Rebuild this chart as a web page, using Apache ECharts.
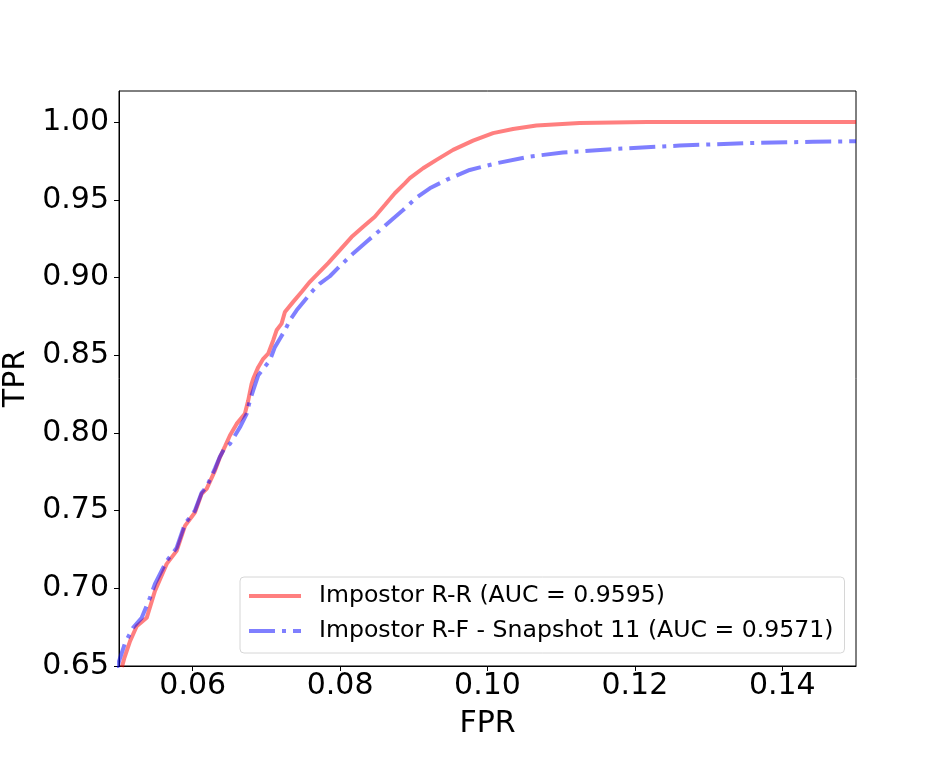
<!DOCTYPE html>
<html>
<head>
<meta charset="utf-8">
<script src="https://cdn.jsdelivr.net/npm/echarts@6/dist/echarts.min.js"></script>
<style>
    html, body { margin: 0; padding: 0; background: #fff; }
    #myChart { width: 952px; height: 761px; }
</style>
</head>
<body>
<div id="myChart"></div>
<script>
// ROC curves
var seriesNames = ['Impostor R-R (AUC = 0.9595)', 'Impostor R-F - Snapshot 11 (AUC = 0.9571)'];
var xTicks = [0.06, 0.08, 0.10, 0.12, 0.14];
var yTicks = [0.65, 0.70, 0.75, 0.80, 0.85, 0.90, 0.95, 1.00];

var fprRR = [0.0504, 0.0507, 0.0515, 0.0524, 0.05376, 0.05488, 0.05647, 0.05782, 0.05895, 0.0603,
    0.06121, 0.06189, 0.06302, 0.06369, 0.06437, 0.06505, 0.06596, 0.06708, 0.06753, 0.06799,
    0.06821, 0.06889, 0.06957, 0.07024, 0.07092, 0.07138, 0.07206, 0.07251, 0.07363, 0.07477,
    0.0759, 0.07702, 0.07838, 0.07997, 0.08155, 0.08313, 0.08471, 0.08607, 0.08742, 0.08878,
    0.08946, 0.09126, 0.09308, 0.09533, 0.09804, 0.10075, 0.10346, 0.10664, 0.1125, 0.1216, 0.15];
var tprRR = [0.6494, 0.6547, 0.666, 0.6756, 0.681, 0.6983, 0.7157, 0.7241, 0.7402, 0.7488,
    0.7608, 0.764, 0.7757, 0.7843, 0.7912, 0.7983, 0.8058, 0.8123, 0.8208, 0.8316,
    0.8348, 0.8423, 0.8477, 0.851, 0.8595, 0.866, 0.8703, 0.8778, 0.8843, 0.8907,
    0.8972, 0.9026, 0.9092, 0.9176, 0.926, 0.9326, 0.9391, 0.9466, 0.9542, 0.9606,
    0.9639, 0.9703, 0.9757, 0.9821, 0.9881, 0.9929, 0.9955, 0.9978, 0.9994, 1.0, 1.0];

var fprRF = [0.0497, 0.05, 0.05081, 0.0519, 0.05308, 0.0542, 0.05488, 0.05647, 0.05782, 0.05895,
    0.0603, 0.06121, 0.06189, 0.06302, 0.06369, 0.06437, 0.06505, 0.06641, 0.06732, 0.06776,
    0.06821, 0.06889, 0.06957, 0.07047, 0.07115, 0.07183, 0.07251, 0.07319, 0.0741, 0.07522,
    0.07635, 0.07725, 0.07861, 0.07997, 0.08177, 0.08359, 0.08516, 0.08698, 0.08855, 0.09036,
    0.09217, 0.09443, 0.09759, 0.10121, 0.10573, 0.11024, 0.11702, 0.12607, 0.13511, 0.14414, 0.15];
var tprRF = [0.648, 0.653, 0.6647, 0.6746, 0.681, 0.6939, 0.7028, 0.7176, 0.726, 0.7415,
    0.7499, 0.7615, 0.7653, 0.777, 0.7847, 0.7905, 0.7929, 0.8036, 0.8123, 0.8208,
    0.8273, 0.837, 0.8413, 0.8466, 0.8552, 0.8606, 0.866, 0.8725, 0.8789, 0.8854,
    0.8918, 0.8961, 0.9008, 0.9073, 0.9155, 0.923, 0.9294, 0.937, 0.9434, 0.9514,
    0.9574, 0.9628, 0.9692, 0.9735, 0.9778, 0.9804, 0.9826, 0.9849, 0.9865, 0.9873, 0.9877];

function zip(xs, ys) {
    var out = [];
    for (var i = 0; i < xs.length; i++) {
        out.push([xs[i], ys[i]]);
    }
    return out;
}

var font = 'DejaVu Sans';
var myChart = echarts.init(document.getElementById('myChart'));
var option = {
    animation: false,
    textStyle: { fontFamily: font },
    grid: {
        left: 119,
        right: 96,
        top: 91,
        bottom: 95,
        containLabel: false,
        outerBoundsMode: 'none',
        show: true,
        borderColor: '#000',
        borderWidth: 1
    },
    legend: {
        orient: 'vertical',
        left: 240,
        top: 577,
        padding: [5, 11, 8, 7],
        itemWidth: 52,
        itemHeight: 14,
        itemGap: 7,
        backgroundColor: 'rgba(255,255,255,0.8)',
        borderColor: '#d6d6d6',
        borderWidth: 1,
        borderRadius: 4,
        itemStyle: { opacity: 0 },
        lineStyle: { width: 4 },
        textStyle: { fontFamily: font, fontSize: 23.6, lineHeight: 28, color: '#000', padding: [0, 0, 0, 13] },
        data: seriesNames
    },
    xAxis: {
        type: 'value',
        min: 0.05,
        max: 0.15,
        name: 'FPR',
        nameLocation: 'middle',
        nameGap: 43,
        nameTextStyle: { fontFamily: font, fontSize: 30, color: '#000' },
        axisLine: { show: true, lineStyle: { color: '#000', width: 1 } },
        axisTick: { show: true, length: 5, lineStyle: { color: '#000' }, customValues: xTicks },
        axisLabel: {
            fontFamily: font, fontSize: 30, color: '#000', margin: 5,
            customValues: xTicks,
            formatter: function (v) { return v.toFixed(2); }
        },
        splitLine: { show: false }
    },
    yAxis: {
        type: 'value',
        min: 0.65,
        max: 1.02,
        name: 'TPR',
        nameLocation: 'middle',
        nameGap: 84,
        nameTextStyle: { fontFamily: font, fontSize: 30, color: '#000' },
        axisLine: { show: true, lineStyle: { color: '#000', width: 1 } },
        axisTick: { show: true, length: 5, lineStyle: { color: '#000' }, customValues: yTicks },
        axisLabel: {
            fontFamily: font, fontSize: 30, color: '#000', margin: 10,
            customValues: yTicks,
            formatter: function (v) { return v.toFixed(2); }
        },
        splitLine: { show: false }
    },
    series: [
        {
            name: seriesNames[0],
            type: 'line',
            data: zip(fprRR, tprRR),
            showSymbol: false,
            symbol: 'none',
            clip: true,
            color: 'rgba(255,0,0,0.5)',
            lineStyle: { color: 'rgba(255,0,0,0.5)', width: 4 }
        },
        {
            name: seriesNames[1],
            type: 'line',
            data: zip(fprRF, tprRF),
            showSymbol: false,
            symbol: 'none',
            clip: true,
            color: 'rgba(0,0,255,0.5)',
            lineStyle: { color: 'rgba(0,0,255,0.5)', width: 4, type: [26, 7, 4, 7] }
        }
    ]
};
myChart.setOption(option);
</script>
</body>
</html>
